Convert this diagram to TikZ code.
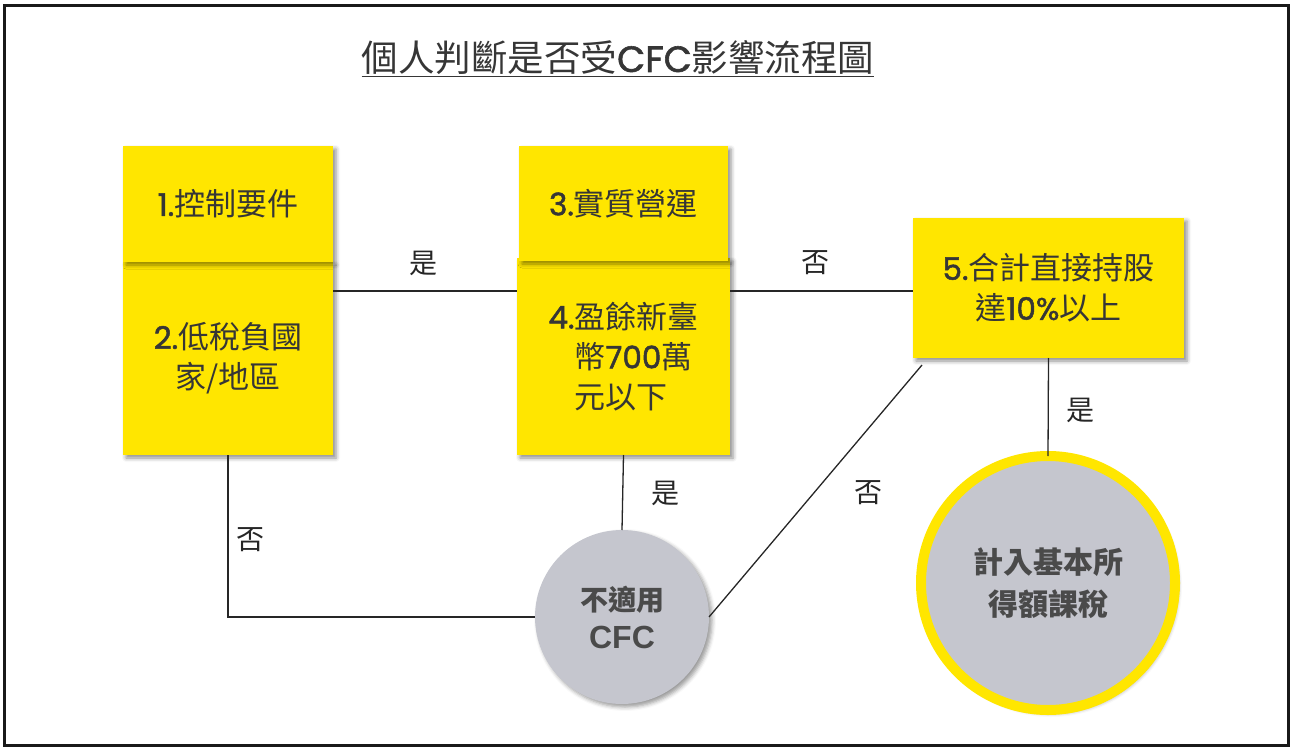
\documentclass[tikz,border=0pt]{standalone}
\usepackage{fontspec}
\setmainfont{Noto Sans CJK TC}
\newfontfamily\latinfont{Poppins}[FakeBold=1.6]
\newfontfamily\arialfont{Liberation Sans}
\usetikzlibrary{shadows.blur}
\definecolor{eyyellow}{HTML}{FFE600}
\definecolor{circgray}{HTML}{C5C6CE}
\definecolor{txt}{HTML}{363636}
\definecolor{ctxt}{HTML}{4A4A4A}
\newcommand{\nm}[1]{{\latinfont #1}}
\begin{document}
\begin{tikzpicture}[x=1pt,y=-1pt,
  box/.style={fill=eyyellow, inner sep=0pt, outer sep=0pt, text=txt,
    font=\fontsize{31}{40}\selectfont,
    blur shadow={shadow xshift=3pt,shadow yshift=-3pt,shadow blur radius=4pt,shadow opacity=45}},
  circ/.style={circle, fill=circgray, inner sep=0pt, outer sep=0pt, text=ctxt,
    blur shadow={shadow xshift=3pt,shadow yshift=-3pt,shadow blur radius=4pt,shadow opacity=40}},
  lbl/.style={font=\fontsize{28}{30}\selectfont, text=black!85, inner sep=0pt},
  conn/.style={line width=1.3pt, draw=black!85}
]
\useasboundingbox (0,0) rectangle (1295,751);
\draw[line width=3pt, black!90] (4.5,6) rectangle (1288.5,745);

% title
\node (title) at (618,59) {\fontsize{36.5}{40}\selectfont\color{txt}\underline{個人判斷是否受{\latinfont CFC}影響流程圖}};

% boxes
\node[box, minimum width=210pt, minimum height=193pt, align=center] (b2) at (228,358.5) {\nm{2.}低稅負國\\家/地區};
\node[box, minimum width=210pt, minimum height=116pt] (b1) at (228,204) {\nm{1.}控制要件};
\node[box, minimum width=213pt, minimum height=197pt, align=left] (b4) at (623.5,356.5) {\nm{4.}盈餘新臺\\\phantom{\nm{4.}}幣\nm{700}萬\\\phantom{\nm{4.}}元以下};
\node[box, minimum width=209pt, minimum height=115pt] (b3) at (623.5,203.5) {\nm{3.}實質營運};
\node[box, minimum width=271pt, minimum height=140pt, align=center] (b5) at (1048.5,288) {\nm{5.}合計直接持股\\達\nm{10\%}以上};

% circles
\node[circ, minimum size=174pt, align=center, font=\fontsize{28}{38}\selectfont\bfseries] (c1) at (622,617) {不適用\\{\arialfont\bfseries\fontsize{32}{38}\selectfont CFC}};
\node[circ, draw=eyyellow, line width=10pt, minimum size=254pt, align=center, font=\fontsize{30}{42}\selectfont\bfseries] (c2) at (1048,583) {計入基本所\\得額課稅};

% connectors
\coordinate (yl) at (0,291);
\coordinate (dg) at (922,365);
\draw[conn] (b2.east |- yl) -- (b4.west |- yl);
\draw[conn] (b4.east |- yl) -- (b5.west |- yl);
\draw[conn] (b2.south) |- (c1.west);
\draw[conn] (b4.south) -- (c1.north);
\draw[conn] (c1.east) -- (dg);
\draw[conn] (b5.south) -- (c2.north);

% labels
\node[lbl] (l1) at (423,263) {是};
\node[lbl] (l2) at (815,263) {否};
\node[lbl] (l3) at (250,540) {否};
\node[lbl] (l4) at (665,493) {是};
\node[lbl] (l5) at (868,493) {否};
\node[lbl] (l6) at (1080,410) {是};
\end{tikzpicture}
\end{document}
